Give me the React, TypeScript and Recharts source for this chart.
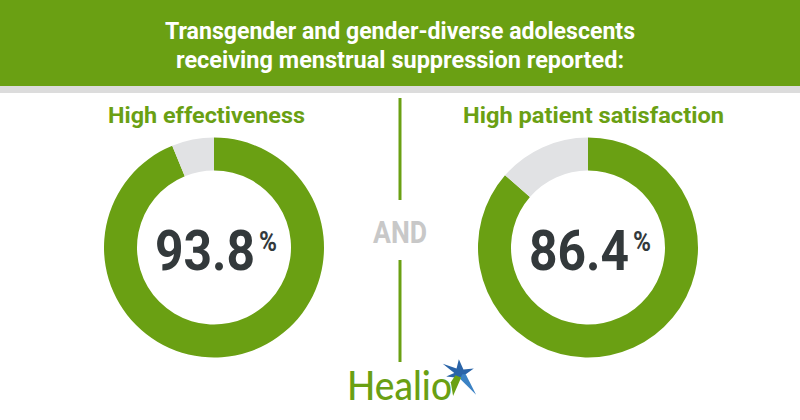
import { PieChart, Pie, Cell } from "recharts";

const title = ["Transgender and gender-diverse adolescents", "receiving menstrual suppression reported:"];
const categories = ["High effectiveness", "High patient satisfaction"];
const reportedPct = [93.8, 86.4];
const otherPct = [6.2, 13.6];

const GREEN = "#6aa013";
const GRAY = "#e1e2e4";
const DARK = "#33393b";
const FONT = "Roboto, 'Noto Sans', sans-serif";

const donutX = [214, 588];
const donutY = 247.5;
const labelX = [206.5, 593.5];
const labelWidth = [197, 261];

export default function App() {
  return (
    <div style={{ position: "absolute", left: 0, top: 0, width: 800, height: 420, background: "#fff", overflow: "hidden" }}>
      <div style={{ position: "absolute", left: 0, top: 0, width: 800, height: 86, background: GREEN }} />
      <div style={{ position: "absolute", left: 0, top: 86, width: 800, height: 7, background: "#dcdcdc" }} />
      <PieChart width={800} height={420} margin={{ top: 0, right: 0, bottom: 0, left: 0 }}
        style={{ position: "absolute", left: 0, top: 0 }}>
        {reportedPct.map((v, i) => (
          <Pie
            key={categories[i]}
            data={[{ name: categories[i], value: v }, { name: "Other", value: otherPct[i] }]}
            dataKey="value"
            cx={donutX[i]}
            cy={donutY}
            innerRadius={77}
            outerRadius={110}
            startAngle={90}
            endAngle={-270}
            stroke="none"
            isAnimationActive={false}
          >
            <Cell fill={GREEN} />
            <Cell fill={GRAY} />
          </Pie>
        ))}
      </PieChart>
      <svg width={800} height={420} style={{ position: "absolute", left: 0, top: 0, pointerEvents: "none" }}>
        <text x={400} y={39} textAnchor="middle" fill="#fff" fontFamily={FONT} fontWeight={700} fontSize={23}
          textLength={470} lengthAdjust="spacingAndGlyphs">{title[0]}</text>
        <text x={400} y={68} textAnchor="middle" fill="#fff" fontFamily={FONT} fontWeight={700} fontSize={23}
          textLength={448} lengthAdjust="spacingAndGlyphs">{title[1]}</text>
        {categories.map((c, i) => (
          <text key={c} x={labelX[i]} y={123} textAnchor="middle" fill={GREEN} fontFamily={FONT}
            fontWeight={700} fontSize={22} textLength={labelWidth[i]} lengthAdjust="spacingAndGlyphs">{c}</text>
        ))}
        {reportedPct.map((v, i) => (
          <g key={i}>
            <text x={donutX[i] - 59} y={donutY + 22.5} fill={DARK} fontFamily={FONT} fontWeight={700} fontSize={55}
              textLength={100} lengthAdjust="spacingAndGlyphs">{v.toFixed(1)}</text>
            <text x={donutX[i] + 45} y={donutY + 3.5} fill={DARK} fontFamily={FONT} fontWeight={700} fontSize={28}
              textLength={18} lengthAdjust="spacingAndGlyphs">%</text>
          </g>
        ))}
        <line x1={400} x2={400} y1={98} y2={200} stroke={GREEN} strokeWidth={3} />
        <line x1={400} x2={400} y1={260} y2={362} stroke={GREEN} strokeWidth={3} />
        <text x={400} y={243} textAnchor="middle" fill="#c8c8c8" fontFamily={FONT} fontWeight={700} fontSize={31}
          textLength={54} lengthAdjust="spacingAndGlyphs">AND</text>
        <text x={347} y={400} fill={GREEN} fontFamily="Lato, 'Open Sans', sans-serif" fontWeight={500} fontSize={40}
          textLength={105} lengthAdjust="spacingAndGlyphs">Healio</text>
        <g transform="translate(460,373) scale(1.15)">
          <polygon points="-15,-8 -3,-4 -1,-12 3,-3 12,-4 5,1 2,4 -4,4 -12,3 -5,0" fill="#2a64a8" />
          <polygon points="2,1 5,1 14,19 0,5" fill="#3b82c4" />
          <polygon points="-4,2 1,4 -6,20 -8,8" fill={GREEN} />
        </g>
      </svg>
    </div>
  );
}
